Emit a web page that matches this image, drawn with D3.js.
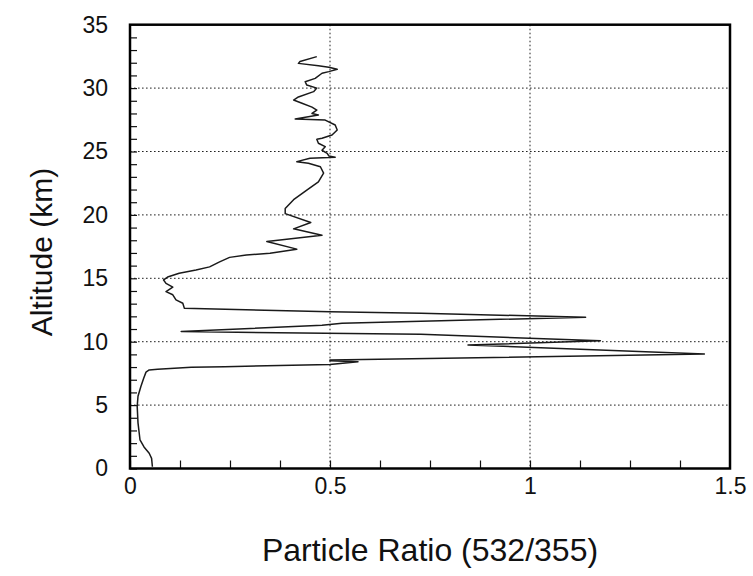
<!DOCTYPE html>
<html>
<head>
<meta charset="utf-8">
<script src="https://cdn.jsdelivr.net/npm/d3@7"></script>
<style>
  html, body { margin: 0; padding: 0; background: #fff; }
  svg { display: block; }
  text { font-family: "Liberation Sans", Arial, Helvetica, sans-serif; fill: #111; }
</style>
</head>
<body>
<svg id="chart" width="753" height="576"></svg>
<script>
// ---- data (altitude in km, particle ratio 532/355) ----
const altitude = [
  0.14, 0.8, 1.2, 1.7, 2.25, 2.8, 3.6, 4.9, 5.7, 6.45, 7.1, 7.6, 7.77, 7.82, 7.98, 8.03,
  8.2, 8.42, 8.5, 8.55, 9.03, 9.74, 10.08, 10.58, 10.8, 11.3, 11.45, 11.93, 12.24, 12.37,
  12.63, 13.03, 13.3, 13.7, 13.95, 14.3, 14.6, 14.87, 15.1, 15.4, 15.65, 15.9, 16.3, 16.65,
  16.84, 16.97, 17.3, 17.9, 18.4, 18.9, 19.4, 20.1, 20.5, 21.2, 21.96, 22.6, 23.3, 23.8,
  24.07, 24.2, 24.46, 24.54, 24.65, 24.86, 25.1, 25.38, 25.65, 25.96, 26.04, 26.3, 26.7,
  27.09, 27.48, 27.56, 27.88, 28.0, 28.27, 28.5, 28.8, 29.06, 29.3, 29.72, 30.0, 30.24,
  30.5, 30.77, 31.17, 31.3, 31.48, 31.64, 31.76, 31.95, 32.1, 32.48
];
const ratio = [
  0.056, 0.054, 0.048, 0.035, 0.025, 0.023, 0.020, 0.018, 0.020, 0.027, 0.034, 0.040, 0.048, 0.069, 0.153, 0.237,
  0.50, 0.57, 0.50, 0.50, 1.436, 0.845, 1.176, 0.727, 0.128, 0.48, 0.53, 1.139, 0.728, 0.50,
  0.136, 0.132, 0.115, 0.107, 0.090, 0.107, 0.090, 0.084, 0.094, 0.123, 0.165, 0.199, 0.224, 0.249,
  0.291, 0.350, 0.417, 0.342, 0.480, 0.409, 0.452, 0.388, 0.388, 0.409, 0.442, 0.471, 0.484, 0.476,
  0.446, 0.417, 0.450, 0.513, 0.497, 0.493, 0.480, 0.488, 0.471, 0.467, 0.480, 0.505, 0.518,
  0.513, 0.488, 0.413, 0.471, 0.455, 0.467, 0.455, 0.430, 0.409, 0.421, 0.459, 0.467, 0.442,
  0.438, 0.463, 0.480, 0.497, 0.518, 0.497, 0.471, 0.421, 0.425, 0.467
];
const xTicks = [0, 0.5, 1, 1.5];
const xTickLabels = ["0", "0.5", "1", "1.5"];
const yTicks = [0, 5, 10, 15, 20, 25, 30, 35];
const xGrid = [0.5, 1];
const yGrid = [5, 10, 15, 20, 25, 30];
const xTitle = "Particle Ratio (532/355)";
const yTitle = "Altitude (km)";

// ---- layout ----
const svg = d3.select("#chart");
const L = 130, R = 730, T = 24.7, B = 468.5;
const x = d3.scaleLinear().domain([0, 1.5]).range([L, R]);
const y = d3.scaleLinear().domain([0, 35]).range([B, T]);

// grid lines
const grid = svg.append("g").attr("stroke", "#222").attr("stroke-width", 1)
  .attr("stroke-dasharray", "1.6,2.4").attr("fill", "none");
grid.selectAll("line.h").data(yGrid).join("line").attr("class", "h")
  .attr("x1", L).attr("x2", R).attr("y1", d => y(d)).attr("y2", d => y(d));
grid.selectAll("line.v").data(xGrid).join("line").attr("class", "v")
  .attr("y1", T).attr("y2", B).attr("x1", d => x(d)).attr("x2", d => x(d));

// minor inward ticks
const minorY = svg.append("g").attr("transform", `translate(${L},0)`)
  .call(d3.axisLeft(y).tickValues(d3.range(0, 35, 1)).tickSize(-7).tickFormat(""));
const minorX = svg.append("g").attr("transform", `translate(0,${B})`)
  .call(d3.axisBottom(x).tickValues(d3.range(0, 1.5, 0.125)).tickSize(-8).tickFormat(""));
[minorY, minorX].forEach(g => {
  g.select(".domain").remove();
  g.selectAll("line").attr("stroke", "#111").attr("stroke-width", 1.2);
});

// tick labels
const yLab = svg.append("g").attr("transform", `translate(${L},0)`)
  .call(d3.axisLeft(y).tickValues(yTicks).tickSize(0).tickPadding(22).tickFormat(d3.format("d")));
const xLab = svg.append("g").attr("transform", `translate(0,${B})`)
  .call(d3.axisBottom(x).tickValues(xTicks).tickSize(0).tickPadding(9)
    .tickFormat((d, i) => xTickLabels[i]));
[yLab, xLab].forEach(g => {
  g.select(".domain").remove();
  g.selectAll("text").attr("font-size", 23).attr("fill", "#111")
    .style("font-family", '"Liberation Sans", Arial, sans-serif');
});

// data line
const pts = altitude.map((a, i) => [ratio[i], a]);
svg.append("path").datum(pts)
  .attr("fill", "none").attr("stroke", "#1a1a1a").attr("stroke-width", 1.5)
  .attr("stroke-linejoin", "round")
  .attr("d", d3.line().x(d => x(d[0])).y(d => y(d[1])));

// frame
svg.append("rect").attr("x", L).attr("y", T).attr("width", R - L).attr("height", B - T)
  .attr("fill", "none").attr("stroke", "#000").attr("stroke-width", 2.5);

// axis titles
svg.append("text").attr("x", (L + R) / 2).attr("y", 561).attr("text-anchor", "middle")
  .attr("font-size", 32).text(xTitle);
svg.append("text").attr("transform", `translate(52,${252}) rotate(-90)`)
  .attr("text-anchor", "middle").attr("font-size", 30).text(yTitle);
</script>
</body>
</html>
